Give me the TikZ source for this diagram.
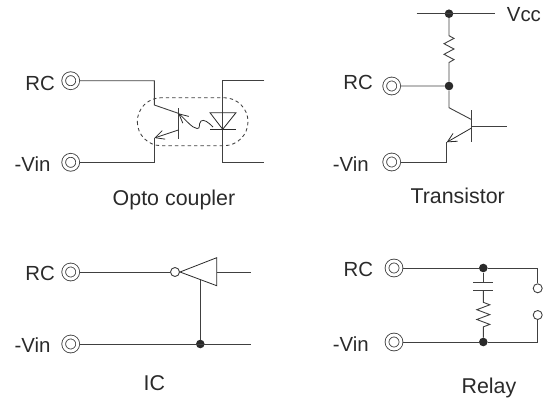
\documentclass[tikz,border=0pt]{standalone}
\usepackage{fontspec}
\setmainfont{Liberation Sans}
\usetikzlibrary{arrows.meta,calc}
\definecolor{ink}{HTML}{2A2A2A}
\definecolor{wire}{HTML}{404040}
\tikzset{
  wireline/.style={draw=wire,line width=0.9pt,line join=miter},
  thin wire/.style={draw=ink,line width=0.8pt},
  terminal/.style={circle,draw=wire,line width=0.85pt,double=white,double distance=2.9pt,minimum size=14pt,inner sep=0pt,outer sep=2.3pt},
  junction/.style={circle,fill=ink,draw=none,minimum size=8.6pt,inner sep=0pt},
  contact/.style={circle,draw=wire,line width=0.9pt,fill=white,minimum size=9pt,inner sep=0pt},
  lab/.style={text=ink,font=\fontsize{20.4}{24}\selectfont,inner sep=0pt},
  caption/.style={text=ink,font=\fontsize{21.4}{25}\selectfont,inner sep=0pt},
  openarrow/.style={-{Straight Barb[length=9pt,width=9pt,line width=0.8pt]}},
  dashbox/.style={draw=wire,line width=0.85pt,dash pattern=on 3.4pt off 3pt,rounded corners=24pt},
}
\begin{document}
\begin{tikzpicture}[x=1pt,y=-1pt]
\useasboundingbox (0,0) rectangle (547,399);
% ---------- Opto coupler ----------
\node[terminal] (oRC) at (70.7,80.7) {};
\node[terminal] (oV) at (70.7,162.3) {};
\node[lab,anchor=base east] (oRCl) at (55,90.7) {RC};
\node[lab,anchor=base east] (oVl) at (50.7,171.7) {-Vin};
\node[caption,anchor=base] (oT) at (174,205) {Opto coupler};
\coordinate (oC) at (154.3,105);
\coordinate (oE) at (154.3,138);
\coordinate (oBc) at (178.3,113.3);
\coordinate (oBe) at (178.3,130);
\coordinate (oBt) at (178.3,108);
\coordinate (oBb) at (178.3,138.5);
\coordinate (oA1) at (222.7,80.7);
\coordinate (oA2) at (222.7,162.3);
\coordinate (oO1) at (264.3,80.7);
\coordinate (oO2) at (264.3,162.3);
\coordinate (oK) at (222.7,129.3);
\draw[dashbox] (137.3,97.7) rectangle (248,145.7);
\draw[wireline] (oRC.east) -| (oC) -- (oBc);
\draw[wireline] (oV.east) -| (oE);
\draw[wireline] (oBt) -- (oBb);
\draw[thin wire,openarrow] (oBe) -- (oE);
\draw[wireline] (oO1) -- (oA1) -- (oA2) -- (oO2);
\draw[thin wire] (210,112.7) -- (236,112.7) -- (oK) -- cycle;
\draw[thin wire] (210,129.3) -- (236,129.3);
\draw[thin wire,openarrow] (213,127) .. controls (208,122) and (204,119) .. (201,121) .. controls (198,124) and (201,129) .. (197,128.5) .. controls (192,128) and (186,120) .. (oBc);
% ---------- Transistor ----------
\node[terminal] (tRC) at (391.7,86) {};
\node[terminal] (tV) at (391.7,162) {};
\node[lab,anchor=base east] (tRCl) at (373,89.5) {RC};
\node[lab,anchor=base west] (tVl) at (332.7,171) {-Vin};
\node[lab,anchor=base west] (tCC) at (506.7,21) {Vcc};
\node[caption,anchor=base] (tT) at (457.7,203) {Transistor};
\node[junction] (tJ1) at (449,13.7) {};
\node[junction] (tJ2) at (449,86) {};
\coordinate (tL) at (416.7,13.7);
\coordinate (tR) at (495,13.7);
\coordinate (tC) at (449,107.7);
\coordinate (tBc) at (471,119.3);
\coordinate (tBe) at (471,128.3);
\coordinate (tBt) at (471,110);
\coordinate (tBb) at (471,141.7);
\coordinate (tB) at (471,126);
\coordinate (tOut) at (507.3,126);
\coordinate (tE) at (446.7,142.3);
\draw[wireline] (tL) -- (tR);
\draw[wireline] (tJ1) -- ++(0,22) -- ++(5,2.7) -- ++(-10,5.3) -- ++(10,5.3) -- ++(-10,5.3) -- ++(10,5.3) -- ++(-5,2.9) -- (tJ2);
\draw[wireline] (tRC.east) -- (tJ2) -- (tC) -- (tBc);
\draw[wireline] (tBt) -- (tBb);
\draw[wireline] (tB) -- (tOut);
\draw[thin wire,openarrow] (tBe) -- (tE);
\draw[wireline] (tV.east) -| (tE);
% ---------- IC ----------
\node[terminal] (iRC) at (70.7,272) {};
\node[terminal] (iV) at (70.7,344) {};
\node[lab,anchor=base east] (iRCl) at (55,280.7) {RC};
\node[lab,anchor=base east] (iVl) at (50.7,352.5) {-Vin};
\node[caption,anchor=base] (iT) at (154.3,390) {IC};
\node[contact] (iB) at (175,272) {};
\node[junction] (iJ) at (200.3,344) {};
\coordinate (iA) at (180,272);
\coordinate (iT1) at (216.7,257.7);
\coordinate (iT2) at (216.7,285.7);
\coordinate (iM) at (216.7,272);
\coordinate (iO) at (250.7,272);
\coordinate (iO2) at (250.7,344);
\coordinate (iG) at (200.3,279.3);
\draw[wireline] (iRC.east) -- (iB);
\draw[thin wire] (iA) -- (iT1) -- (iT2) -- cycle;
\draw[wireline] (iM) -- (iO);
\draw[wireline] (iG) -- (iJ);
\draw[wireline] (iV.east) -- (iO2);
% ---------- Relay ----------
\node[terminal] (rRC) at (394,268) {};
\node[terminal] (rV) at (394,342) {};
\node[lab,anchor=base east] (rRCl) at (373.3,276.7) {RC};
\node[lab,anchor=base west] (rVl) at (332.7,351.7) {-Vin};
\node[caption,anchor=base] (rT) at (489,393.3) {Relay};
\node[junction] (rJ1) at (483.3,268) {};
\node[junction] (rJ2) at (483.3,342) {};
\node[contact] (rC1) at (537.7,288.3) {};
\node[contact] (rC2) at (537.7,315) {};
\coordinate (rP1) at (483.3,282.3);
\coordinate (rP2) at (483.3,290.3);
\coordinate (rS) at (483.3,302.3);
\coordinate (rE) at (483.3,331.7);
\draw[wireline] (rRC.east) -- (rJ1) -| (rC1);
\draw[wireline] (rV.east) -- (rJ2) -| (rC2);
\draw[wireline] (rJ1) -- (rP1);
\draw[wireline] (473.3,282.3) -- (493.3,282.3);
\draw[wireline] (473.3,290.3) -- (493.3,290.3);
\draw[wireline] (rP2) -- (rS) -- ++(6.5,2.5) -- ++(-13,4.9) -- ++(13,4.9) -- ++(-13,4.9) -- ++(13,4.9) -- ++(-6.5,2.5) -- (rJ2);
\end{tikzpicture}
\end{document}
